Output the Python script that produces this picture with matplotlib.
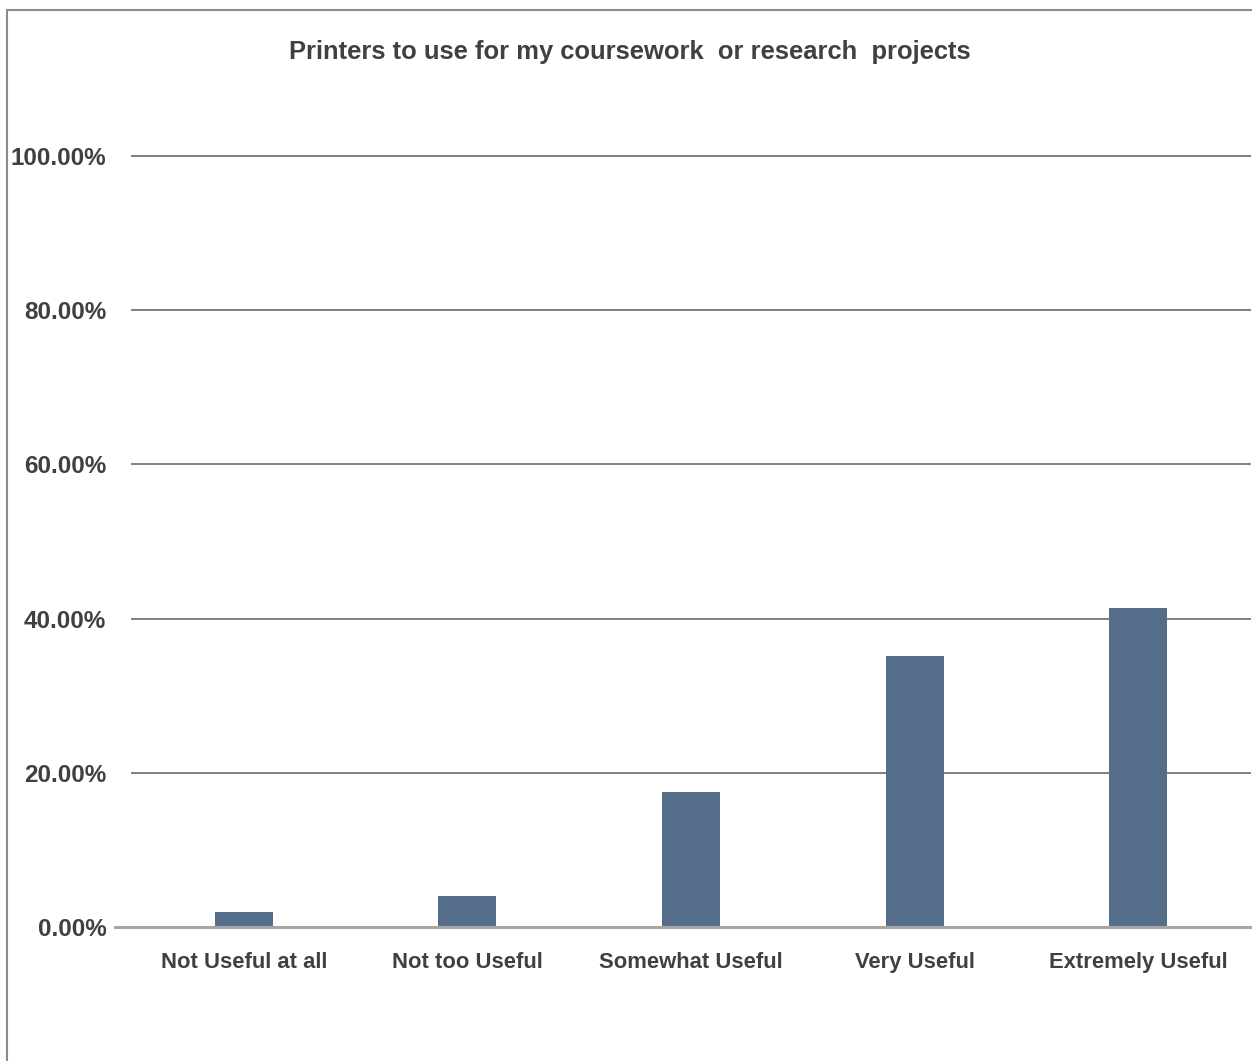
import matplotlib
matplotlib.use('Agg')
import matplotlib.pyplot as plt
from matplotlib.patches import Rectangle
from matplotlib.ticker import FuncFormatter

# survey data
categories = ['Not Useful at all', 'Not too Useful', 'Somewhat Useful',
              'Very Useful', 'Extremely Useful']
shares = [0.0195, 0.040, 0.175, 0.351, 0.414]
y_ticks = [0.0, 0.2, 0.4, 0.6, 0.8, 1.0]

title = 'Printers to use for my coursework  or research  projects'

plt.rcParams['font.family'] = ['Liberation Sans', 'DejaVu Sans']
text_color = '#404040'
bar_color = '#546E8A'

W, H = 1252, 1061
fig = plt.figure(figsize=(W / 100, H / 100), dpi=100)
fig.patch.set_facecolor('white')

# outer chart border (cropped at right and bottom)
fig.patches.append(Rectangle((7 / W, -0.05), 1.2, 1 - 10 / H + 0.05,
                             transform=fig.transFigure, fill=False,
                             edgecolor='#8c8c8c', linewidth=1.5))

ax = fig.add_axes([132 / W, 1 - 927 / H, (1250 - 132) / W, (927 - 156) / H])
x = range(len(categories))
ax.bar(x, shares, width=0.26, color=bar_color, zorder=3)

ax.set_xlim(-0.5, len(categories) - 0.5)
ax.set_ylim(0, 1.0)
ax.set_yticks(y_ticks)
ax.yaxis.set_major_formatter(FuncFormatter(lambda v, p: f'{v * 100:.2f}%'))
ax.set_xticks(list(x))
ax.set_xticklabels(categories)

for t in y_ticks[1:]:
    ax.axhline(t, color='#7f7f7f', linewidth=1.4, zorder=1, clip_on=False)
# baseline, a bit wider than the gridlines
ax.plot([-0.577, len(categories) - 0.5], [0, 0], color='#a6a6a6',
        linewidth=2.2, zorder=4, clip_on=False)

for s in ax.spines.values():
    s.set_visible(False)
ax.tick_params(axis='both', length=0)
ax.tick_params(axis='y', pad=18.5, labelsize=17.5, labelcolor=text_color)
ax.tick_params(axis='x', pad=18, labelsize=15.8, labelcolor=text_color)
for lab in ax.get_xticklabels() + ax.get_yticklabels():
    lab.set_fontweight('bold')

fig.text(630 / W, 1 - 52 / H, title, ha='center', va='center',
         fontsize=18.4, fontweight='bold', color=text_color)

fig.savefig('out.png', dpi=100, facecolor='white')
